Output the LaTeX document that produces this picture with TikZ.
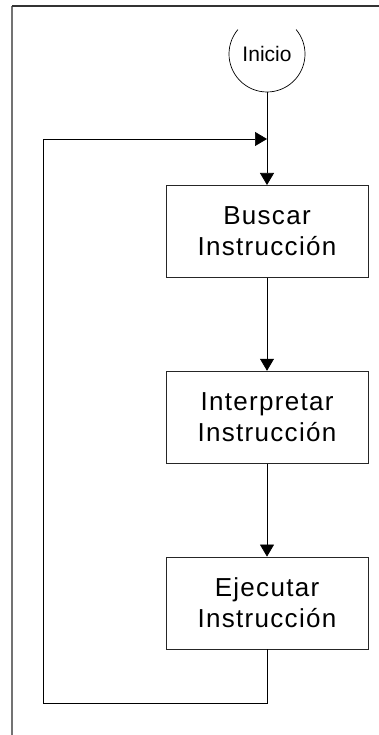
\documentclass[tikz,border=0pt]{standalone}
\usepackage{fontspec}
\setmainfont{Liberation Sans}
\newfontfamily\cajafont[LetterSpace=5]{Liberation Sans}
\usetikzlibrary{positioning}
\usetikzlibrary{calc}
\usetikzlibrary{arrows.meta}

\begin{document}
\begin{tikzpicture}[x=1pt,y=1pt,align=center,
	pnode/.style={rectangle,draw=black!85,line width=0.8pt,minimum width=202pt,minimum height=92pt,inner sep=0pt,font=\cajafont\fontsize{26}{31}\selectfont},
	flecha/.style={line width=0.7pt,-{Triangle[length=12pt,width=14pt]}},
	node distance = 93pt]
		\useasboundingbox (0,0) rectangle (379,735);
		% marco
		\draw[black!55,line width=1.6pt] (12,0) -- (12,729);
		\draw[black!80,line width=1.6pt] (12,729) -- (379,729);
		\node (inicio) at (267,681) {\fontsize{21}{24}\selectfont Inicio};
		\draw[line width=0.7pt] ([shift={(140:38pt)}]inicio.center) arc[start angle=140,end angle=400,radius=38pt];
		\coordinate (iniciob) at ($(inicio.center)+(0,-38pt)$);
		\node[pnode] (buscar)[below = of iniciob]{Buscar\\Instrucción};
		\node[pnode] (interp)[below = of buscar]{Interpretar\\Instrucción};
		\node[pnode] (ejec)[below = of interp]{Ejecutar\\Instrucción};
		\coordinate (union) at ($(iniciob)+(0,-47pt)$);
		\coordinate (esquina) at (43,32);
		\draw[flecha] (iniciob) -- (buscar);
		\draw[flecha] (buscar) -- (interp);
		\draw[flecha] (interp) -- (ejec);
		\draw[flecha] (ejec.south) |- (esquina) |- (union);
	\end{tikzpicture}
\end{document}
